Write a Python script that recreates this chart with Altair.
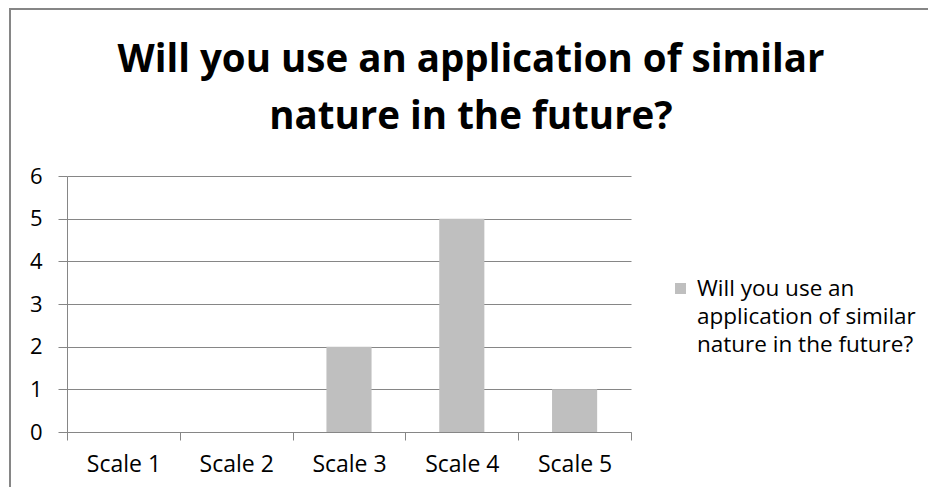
import altair as alt
import pandas as pd

categories = ["Scale 1", "Scale 2", "Scale 3", "Scale 4", "Scale 5"]
values = [0, 0, 2, 5, 1]
series_name = "Will you use an application of similar nature in the future?"
legend_lines = ["Will you use an", "application of similar", "nature in the future?"]
title_lines = ["Will you use an application of similar", "nature in the future?"]

df = pd.DataFrame({"cat": categories, "val": values, "series": [series_name] * len(categories)})
legend_df = pd.DataFrame({"series": [series_name], "label": [legend_lines], "title": [title_lines]})

FONT = "Open Sans"
GRID = "#868686"
BAR = "#BFBFBF"
W, H = 564, 256
PL, PT, PR, PB = 59, 168, 297, 55

bars = alt.Chart(df).mark_bar(color=BAR, width=alt.RelativeBandSize(0.4)).encode(
    x=alt.X("cat:N", sort=categories, title=None,
            scale=alt.Scale(paddingInner=0, paddingOuter=0),
            axis=alt.Axis(labelAngle=0, tickBand="extent", tickSize=8, tickColor=GRID,
                          domainColor=GRID, labelFontSize=23, labelFont=FONT,
                          labelColor="#000000", labelPadding=13, grid=False)),
    y=alt.Y("val:Q", title=None,
            scale=alt.Scale(domain=[0, 6]),
            axis=alt.Axis(values=[0, 1, 2, 3, 4, 5, 6], tickSize=9, tickColor=GRID,
                          domainColor=GRID, gridColor=GRID, labelFontSize=22,
                          labelFont=FONT, labelColor="#000000", labelPadding=16)),
)

legend_sym = alt.Chart(legend_df).mark_square(size=121, color=BAR, opacity=1).encode(
    x=alt.value(613.5), y=alt.value(112.5)
)
legend_txt = alt.Chart(legend_df).mark_text(
    align="left", baseline="alphabetic", fontSize=22.5, font=FONT, color="#000000",
    lineHeight=28
).encode(text="label", x=alt.value(630), y=alt.value(120))

title_txt = alt.Chart(legend_df).mark_text(
    align="center", baseline="alphabetic", fontSize=38.5, font=FONT, fontWeight="bold",
    color="#000000", lineHeight=57
).encode(text="title", x=alt.value(404), y=alt.value(-104))

border_top = alt.Chart(legend_df).mark_rule(color=GRID, strokeWidth=2).encode(
    x=alt.value(-57), x2=alt.value(W + PR + 5), y=alt.value(-PT + 1), y2=alt.value(-PT + 1)
)
border_left = alt.Chart(legend_df).mark_rule(color=GRID, strokeWidth=2).encode(
    x=alt.value(-57), x2=alt.value(-57), y=alt.value(-PT), y2=alt.value(H + PB + 5)
)

chart = alt.layer(bars, legend_sym, legend_txt, title_txt, border_top, border_left).properties(
    width=W, height=H,
    padding={"left": PL, "top": PT, "right": PR, "bottom": PB},
    autosize=alt.AutoSizeParams(type="none"),
).configure_view(stroke=None)

chart.save("out.html", embed_options={"renderer": "svg", "actions": False})
